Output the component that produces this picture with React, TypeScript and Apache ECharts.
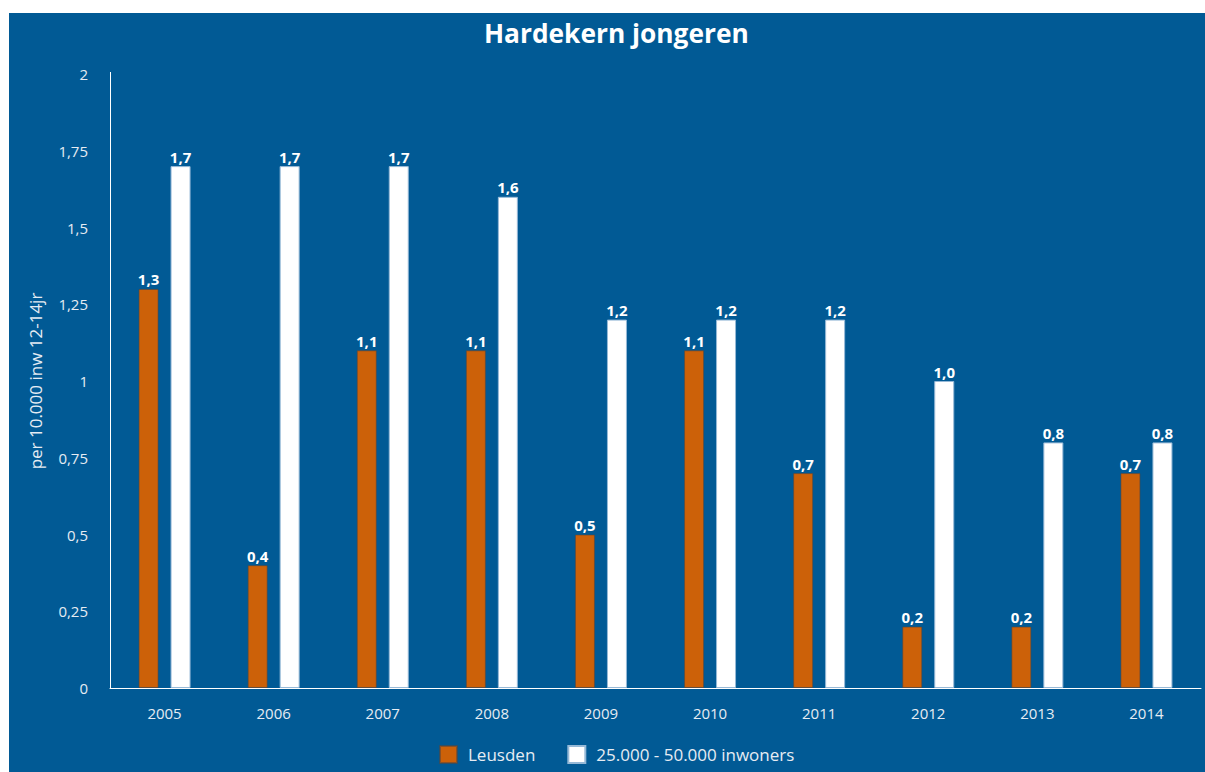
import React, { useEffect, useRef } from "react";
import * as echarts from "echarts";

const years = ["2005", "2006", "2007", "2008", "2009", "2010", "2011", "2012", "2013", "2014"];
const leusden = [1.3, 0.4, 1.1, 1.1, 0.5, 1.1, 0.7, 0.2, 0.2, 0.7];
const referentie = [1.7, 1.7, 1.7, 1.6, 1.2, 1.2, 1.2, 1.0, 0.8, 0.8];
const seriesNames = ["Leusden", "25.000 - 50.000 inwoners"];
const titleText = "Hardekern jongeren";
const yAxisName = "per 10.000 inw 12-14jr";

const BLUE = "#015a95";
const ORANGE = "#cc6109";
const FONT = "'Open Sans', 'Noto Sans', sans-serif";
const LABEL = "#e6ecf3";

const fmt1 = (v: number) => v.toFixed(1).replace(".", ",");

export default function App() {
  const ref = useRef<HTMLDivElement>(null);
  useEffect(() => {
    if (!ref.current) return;
    const chart = echarts.init(ref.current, null, { renderer: "svg" });
    const barLabel = {
      show: true,
      position: "top",
      distance: 2,
      color: "#ffffff",
      fontWeight: "bold",
      fontSize: 15,
      fontFamily: FONT,
      formatter: (p: any) => fmt1(p.value),
    };
    chart.setOption({
      animation: false,
      backgroundColor: "#ffffff",
      textStyle: { fontFamily: FONT },
      graphic: [
        {
          type: "rect",
          z: -10,
          silent: true,
          shape: { x: 9, y: 13, width: 1196, height: 759 },
          style: { fill: BLUE },
        },
        {
          type: "line",
          silent: true,
          shape: { x1: 110.5, y1: 72, x2: 110.5, y2: 75 },
          style: { stroke: "#ffffff", lineWidth: 1 },
        },
      ],
      title: {
        text: titleText,
        left: 479,
        top: 15,
        textStyle: { color: "#ffffff", fontSize: 26.3, fontWeight: "bold", fontFamily: FONT },
      },
      legend: {
        data: seriesNames,
        top: 740,
        left: 434,
        itemWidth: 17,
        itemHeight: 17,
        itemGap: 32,
        icon: "rect",
        textStyle: { color: LABEL, fontSize: 17, fontFamily: FONT, padding: [0, 0, 0, 6] },
      },
      grid: { left: 110, right: 4, top: 74, bottom: 84 },
      xAxis: {
        type: "category",
        data: years,
        axisLine: { lineStyle: { color: "#ffffff", width: 1 } },
        axisTick: { show: false },
        axisLabel: { color: LABEL, fontSize: 15, margin: 17, fontFamily: FONT },
      },
      yAxis: {
        type: "value",
        min: 0,
        max: 2,
        interval: 0.25,
        name: yAxisName,
        nameLocation: "middle",
        nameGap: 66,
        nameTextStyle: { color: LABEL, fontSize: 17, fontFamily: FONT },
        axisLine: { show: true, lineStyle: { color: "#ffffff", width: 1 } },
        axisTick: { show: false },
        splitLine: { show: false },
        axisLabel: {
          color: LABEL,
          fontSize: 15,
          margin: 22,
          fontFamily: FONT,
          formatter: (v: number) => String(v).replace(".", ","),
        },
      },
      series: [
        {
          name: seriesNames[0],
          type: "bar",
          data: leusden,
          barWidth: 20,
          barGap: "60%",
          itemStyle: { color: ORANGE, borderColor: "rgba(90,70,60,0.6)", borderWidth: 1 },
          label: barLabel,
        },
        {
          name: seriesNames[1],
          type: "bar",
          data: referentie,
          barWidth: 20,
          itemStyle: { color: "#ffffff", borderColor: "rgba(150,185,215,1)", borderWidth: 1 },
          label: barLabel,
        },
      ],
    });
    return () => chart.dispose();
  }, []);
  return (
    <div
      ref={ref}
      style={{ position: "absolute", left: 0, top: 0, width: 1205, height: 772 }}
    />
  );
}
